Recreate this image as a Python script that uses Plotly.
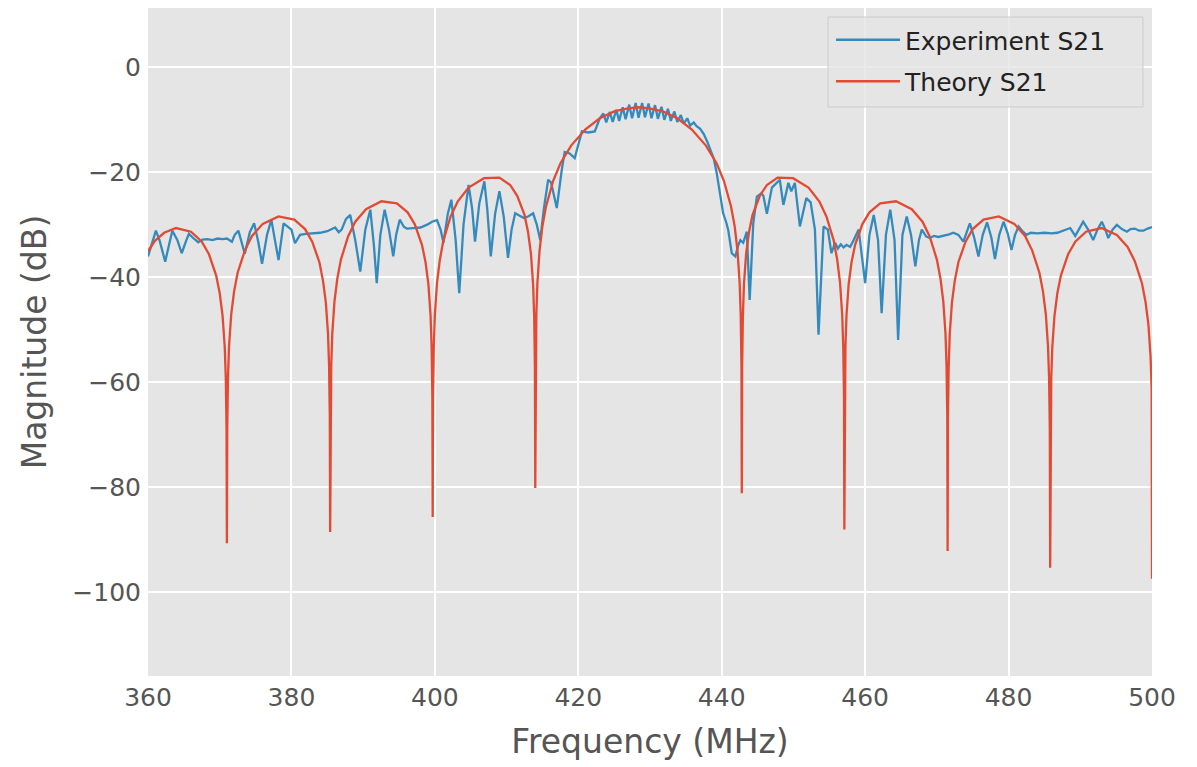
import plotly.graph_objects as go

# ---------------- data ----------------
exp_freq = [
    360.0, 360.6, 361.1, 361.6, 362.4, 363.0, 363.4, 364.1, 364.7, 365.3, 365.7, 366.3, 367.0,
    367.6, 368.3, 369.0, 369.7, 370.4, 371.0, 371.7, 372.1, 372.6, 373.0, 373.5, 374.2, 374.8,
    375.4, 375.9, 376.6, 377.2, 377.7, 378.2, 378.9, 379.5, 380.0, 380.5, 381.2, 382.0, 383.0,
    384.0, 385.0, 385.6, 386.1, 386.6, 387.0, 387.6, 388.2, 388.9, 389.6, 390.3, 391.0, 391.5,
    391.9, 392.4, 393.0, 393.6, 394.2, 394.6, 395.1, 395.7, 396.1, 397.0, 398.0, 399.0, 399.6,
    400.3, 400.8, 401.2, 401.8, 402.3, 402.9, 403.4, 404.0, 404.7, 405.2, 405.6, 406.2, 406.9,
    407.3, 407.8, 408.4, 409.0, 409.6, 410.2, 410.7, 411.2, 411.8, 412.4, 413.0, 413.7, 414.2,
    414.7, 415.2, 415.8, 416.2, 417.0, 417.7, 418.1, 418.8, 419.5, 420.5, 421.4, 422.3, 423.0,
    423.5, 423.9, 424.4, 424.8, 425.3, 425.7, 426.2, 426.6, 427.1, 427.5, 428.0, 428.4, 428.9,
    429.3, 429.8, 430.2, 430.7, 431.1, 431.6, 432.0, 432.5, 432.9, 433.4, 433.8, 434.3, 434.7,
    435.2, 435.6, 436.1, 436.5, 437.0, 437.5, 438.0, 438.5, 438.9, 439.3, 439.7, 440.2, 440.6,
    440.9, 441.4, 441.9, 442.3, 442.6, 443.0, 443.5, 443.9, 444.4, 444.9, 445.5, 445.8, 446.3,
    447.0, 447.5, 448.1, 448.6, 449.3, 449.7, 450.2, 450.9, 451.4, 451.8, 452.4, 453.0, 453.5,
    454.2, 454.8, 455.3, 455.8, 456.2, 456.6, 457.0, 457.4, 457.9, 458.4, 459.1, 460.0, 460.6,
    461.2, 461.8, 462.3, 462.9, 463.5, 464.1, 464.6, 465.2, 465.8, 466.4, 467.0, 467.5, 467.9,
    468.5, 469.0, 469.6, 470.2, 471.0, 471.7, 472.3, 473.0, 473.7, 474.6, 475.2, 475.8, 476.4,
    477.0, 477.6, 478.1, 478.7, 479.3, 479.9, 480.4, 480.9, 481.4, 482.0, 482.5, 483.1, 484.0,
    485.0, 486.0, 486.8, 487.6, 488.6, 489.3, 490.4, 491.1, 491.8, 492.4, 493.0, 493.5, 493.9,
    494.5, 495.1, 495.8, 496.5, 497.0, 497.6, 498.2, 498.8, 499.4, 500.0,
]
exp_db = [
    -36.1, -33.5, -31.2, -33.0, -37.1, -33.5, -31.2, -33.0, -35.5, -33.2, -31.8, -32.6, -33.4,
    -32.9, -32.8, -33.0, -32.7, -32.8, -32.7, -33.3, -32.0, -31.2, -33.0, -35.6, -31.5, -29.8,
    -33.5, -37.5, -32.0, -29.1, -33.0, -36.8, -29.8, -30.5, -31.0, -33.6, -32.0, -31.8, -31.7,
    -31.6, -31.3, -31.0, -30.6, -31.5, -31.0, -29.0, -28.2, -33.0, -39.0, -31.0, -27.2, -34.0,
    -41.2, -32.0, -27.2, -31.0, -36.1, -32.0, -29.1, -30.5, -30.8, -30.7, -30.6, -30.0, -29.5,
    -29.2, -31.0, -33.5, -28.0, -25.3, -33.0, -43.1, -30.0, -22.5, -27.0, -33.3, -26.0, -21.8,
    -27.0, -36.1, -28.0, -23.7, -28.5, -36.4, -31.0, -27.9, -28.3, -28.8, -28.5, -27.9, -30.0,
    -33.0, -27.0, -21.5, -22.0, -26.9, -19.6, -16.2, -16.5, -17.4, -12.3, -12.5, -12.3, -9.8,
    -8.9, -10.6, -8.6, -10.5, -8.2, -10.3, -7.7, -10.0, -7.2, -9.8, -6.9, -9.7, -6.9,
    -9.6, -7.0, -9.8, -7.3, -9.9, -7.6, -10.1, -8.0, -10.3, -8.5, -10.5, -9.2, -10.8,
    -9.8, -11.2, -10.6, -11.3, -11.8, -12.8, -14.3, -16.0, -17.5, -20.2, -24.0, -27.9, -29.5,
    -31.0, -35.5, -36.1, -34.0, -33.0, -33.5, -31.4, -44.4, -29.8, -24.7, -24.1, -24.5, -28.0,
    -23.0, -22.3, -21.5, -26.3, -22.1, -23.7, -22.1, -30.4, -27.0, -25.0, -25.8, -31.0, -51.0,
    -30.4, -31.0, -35.5, -33.5, -34.6, -33.8, -34.4, -33.9, -34.3, -33.0, -31.0, -41.2, -32.0,
    -28.2, -33.0, -46.9, -32.0, -27.2, -33.0, -52.0, -32.0, -28.5, -32.0, -38.0, -33.0, -31.0,
    -32.3, -32.6, -32.2, -32.4, -32.2, -31.9, -31.6, -32.0, -33.3, -29.8, -32.5, -36.1, -32.0,
    -29.6, -32.5, -36.6, -32.0, -29.5, -31.8, -34.9, -32.0, -30.4, -31.4, -32.0, -31.6, -31.7,
    -31.6, -31.7, -31.6, -31.2, -30.7, -32.2, -29.5, -31.0, -33.0, -31.0, -29.5, -31.0, -32.6,
    -31.0, -30.1, -30.9, -31.4, -30.9, -30.8, -31.2, -31.2, -30.8, -30.5,
]

theory_freq = [
    360.0, 361.0, 362.25, 363.9, 366.0, 367.5, 368.5, 369.5, 370.0, 370.4, 370.7, 370.85, 370.95,
    371.0,
    371.05, 371.15, 371.3, 371.6, 372.0, 372.5, 373.5, 374.5, 376.0, 378.2, 380.4, 381.9, 382.9,
    383.9, 384.4, 384.8, 385.1, 385.25, 385.35, 385.4,
    385.45, 385.55, 385.7, 386.0, 386.4, 386.9, 387.9, 388.9, 390.4, 392.55, 394.7, 396.2, 397.2,
    398.2, 398.7, 399.1, 399.4, 399.55, 399.65, 399.7,
    399.75, 399.85, 400.0, 400.3, 400.7, 401.2, 402.2, 403.2, 404.7, 406.85, 409.0, 410.5, 411.5,
    412.5, 413.0, 413.4, 413.7, 413.85, 413.95, 414.0,
    414.05, 414.15, 414.3, 414.6, 415.0, 415.5, 416.5, 417.5, 419.0, 421.0, 423.0, 425.0, 426.9,
    428.4, 429.9, 431.8, 433.8, 435.8, 437.8, 439.3, 440.3, 441.3, 441.8, 442.2, 442.5, 442.65,
    442.75, 442.8,
    442.85, 442.95, 443.1, 443.4, 443.8, 444.3, 445.3, 446.3, 447.8, 449.95, 452.1, 453.6, 454.6,
    455.6, 456.1, 456.5, 456.8, 456.95, 457.05, 457.1,
    457.15, 457.25, 457.4, 457.7, 458.1, 458.6, 459.6, 460.6, 462.1, 464.3, 466.5, 468.0, 469.0,
    470.0, 470.5, 470.9, 471.2, 471.35, 471.45, 471.5,
    471.55, 471.65, 471.8, 472.1, 472.5, 473.0, 474.0, 475.0, 476.5, 478.65, 480.8, 482.3, 483.3,
    484.3, 484.8, 485.2, 485.5, 485.65, 485.75, 485.8,
    485.85, 485.95, 486.1, 486.4, 486.8, 487.3, 488.3, 489.3, 490.8, 492.95, 495.1, 496.6, 497.6,
    498.6, 499.1, 499.5, 499.8, 499.95, 500.0,
]
theory_db = [
    -35.1, -33.1, -31.6, -30.7, -31.4, -33.3, -35.7, -39.7, -43.1, -47.4, -53.3, -59.4, -68.9,
    -90.7,
    -68.9, -59.3, -53.2, -47.2, -42.8, -39.2, -35.0, -32.2, -29.9, -28.5, -29.1, -30.9, -33.3,
    -37.2, -40.7, -44.9, -50.8, -56.9, -66.4, -88.6,
    -66.4, -56.9, -50.7, -44.7, -40.3, -36.7, -32.3, -29.5, -27.1, -25.6, -26.0, -27.7, -30.0,
    -33.9, -37.2, -41.4, -47.3, -53.4, -62.9, -85.7,
    -62.9, -53.4, -47.2, -41.1, -36.7, -33.0, -28.5, -25.6, -23.0, -21.2, -21.1, -22.5, -24.6,
    -28.2, -31.5, -35.6, -41.5, -47.5, -56.9, -80.2,
    -56.9, -47.3, -41.1, -35.0, -30.3, -26.6, -21.7, -18.4, -15.0, -11.9, -9.8, -8.5, -7.9,
    -7.7, -7.9, -8.5, -9.8, -11.9, -15.0, -18.4, -21.7, -26.6, -30.3, -35.0, -41.1, -47.3,
    -56.9, -81.2,
    -56.9, -47.5, -41.4, -35.6, -31.5, -28.2, -24.6, -22.5, -21.1, -21.2, -23.0, -25.6, -28.5,
    -33.0, -36.7, -41.1, -47.2, -53.4, -62.9, -88.1,
    -62.9, -53.4, -47.3, -41.4, -37.2, -33.9, -30.0, -27.7, -26.0, -25.6, -27.1, -29.5, -32.3,
    -36.7, -40.3, -44.7, -50.7, -56.9, -66.4, -92.2,
    -66.4, -56.9, -50.8, -44.9, -40.7, -37.2, -33.3, -30.9, -29.1, -28.5, -29.9, -32.2, -35.0,
    -39.2, -42.8, -47.2, -53.2, -59.3, -68.9, -95.4,
    -68.9, -59.4, -53.3, -47.4, -43.1, -39.7, -35.7, -33.3, -31.4, -30.7, -32.0, -34.3, -37.0,
    -41.2, -44.8, -49.1, -55.2, -61.3, -97.5,
]

x_ticks = [360, 380, 400, 420, 440, 460, 480, 500]
y_ticks = [0, -20, -40, -60, -80, -100]

series_names = ["Experiment S21", "Theory S21"]
series_colors = ["#348ABD", "#E24A33"]

# ---------------- figure ----------------
fig = go.Figure()
fig.add_trace(go.Scatter(x=exp_freq, y=exp_db, mode="lines", name=series_names[0],
                         line=dict(color=series_colors[0], width=2.3), legendgroup="a"))
fig.add_trace(go.Scatter(x=theory_freq, y=theory_db, mode="lines", name=series_names[1],
                         line=dict(color=series_colors[1], width=2.3), legendgroup="b"))

axis_font = dict(family="DejaVu Sans", size=25, color="#555555")
title_font = dict(family="DejaVu Sans", size=33, color="#555555")

# legend frame (matplotlib-style box, wider than plotly's own)
fig.add_shape(type="rect", xref="paper", yref="paper",
              x0=0.6773, x1=0.991, y0=0.8518, y1=0.9865,
              fillcolor="rgba(229,229,229,0.8)", line=dict(color="#CCCCCC", width=1),
              layer="above")

fig.update_layout(
    width=1197, height=767,
    margin=dict(l=140, r=53, t=0, b=99),
    paper_bgcolor="white",
    plot_bgcolor="#E5E5E5",
    font=dict(family="DejaVu Sans"),
    showlegend=True,
    legend=dict(
        x=0.6803, y=0.9865, xanchor="left", yanchor="top",
        bgcolor="rgba(0,0,0,0)", borderwidth=0,
        font=dict(family="DejaVu Sans", size=25, color="#222222"),
        tracegroupgap=6, itemwidth=64,
    ),
    xaxis=dict(
        range=[360, 500], tickvals=x_ticks, ticktext=[str(v) for v in x_ticks],
        showgrid=True, gridcolor="white", gridwidth=2, zeroline=False,
        tickfont=axis_font, ticks="", ticklabelstandoff=4,
        title=dict(text="Frequency (MHz)", font=title_font, standoff=18),
        showline=False,
    ),
    yaxis=dict(
        range=[-116, 11.2], tickvals=y_ticks,
        showgrid=True, gridcolor="white", gridwidth=2, zeroline=False,
        tickfont=axis_font, ticks="", ticklabelstandoff=6,
        title=dict(text="Magnitude (dB)", font=title_font, standoff=15),
        showline=False,
    ),
)

fig.write_html("out.html")
